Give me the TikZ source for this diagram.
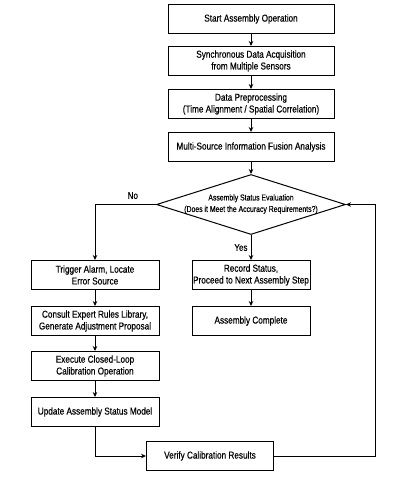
\documentclass[tikz,border=0pt]{standalone}
\usepackage{fontspec}
\setmainfont{Liberation Sans}[FakeStretch=0.82,FakeBold=0.3]
\newfontfamily\decfont{Liberation Sans}[FakeStretch=0.8,FakeBold=0.3]
\usetikzlibrary{shapes.geometric,arrows.meta}
\begin{document}
\begin{tikzpicture}[x=1pt,y=-1pt,
  box/.style={draw, line width=1pt, minimum height=29pt, inner sep=0pt, align=center,
     font=\fontsize{10}{11.8}\selectfont},
  mainbox/.style={box, minimum width=166pt},
  leftbox/.style={box, minimum width=128pt},
  midbox/.style={box, minimum width=118pt},
  arr/.style={line width=1pt, -{Stealth[length=5pt,width=4.5pt]}},
  lbl/.style={font=\fontsize{9.8}{11}\selectfont, inner sep=1pt}]
\useasboundingbox (0,0) rectangle (420,480);
\fill[white] (0,0) rectangle (420,480);
\node[mainbox] (b1) at (251,19) {Start Assembly Operation};
\node[mainbox] (b2) at (251,61) {Synchronous Data Acquisition\\from Multiple Sensors};
\node[mainbox] (b3) at (251,104) {Data Preprocessing\\(Time Alignment / Spatial Correlation)};
\node[mainbox] (b4) at (251,147) {Multi-Source Information Fusion Analysis};
\node[draw, line width=1pt, diamond, minimum width=189pt, minimum height=60pt, inner sep=0pt] (dec) at (251,204.5) {};
\node[align=center, font=\decfont\fontsize{8.6}{11.5}\selectfont, inner sep=0pt] (dect) at (251,204) {Assembly Status Evaluation\\(Does it Meet the Accuracy Requirements?)};
\node[midbox] (rec) at (251,275) {Record Status,\\Proceed to Next Assembly Step};
\node[midbox] (done) at (251,321) {Assembly Complete};
\node[leftbox] (l1) at (95,275) {Trigger Alarm, Locate\\Error Source};
\node[leftbox] (l2) at (95,321) {Consult Expert Rules Library,\\Generate Adjustment Proposal};
\node[leftbox] (l3) at (95,366) {Execute Closed-Loop\\Calibration Operation};
\node[leftbox] (l4) at (95,412) {Update Assembly Status Model};
\node[box, minimum width=127pt] (ver) at (210,456) {Verify Calibration Results};
\coordinate (fb) at (375,456);
\draw[arr] (b1) -- (b2);
\draw[arr] (b2) -- (b3);
\draw[arr] (b3) -- (b4);
\draw[arr] (b4) -- (dec.north);
\draw[arr] (dec.south) -- node[lbl, left=2pt] (yes) {Yes} (rec);
\draw[arr] (rec) -- (done);
\draw[arr] (dec.west) -| node[lbl, pos=0.19, above=4pt] (no) {No} (l1.north);
\draw[arr] (l1) -- (l2);
\draw[arr] (l2) -- (l3);
\draw[arr] (l3) -- (l4);
\draw[arr] (l4.south) |- (ver.west);
\draw[arr] (ver.east) -- (fb) |- (dec.east);
\end{tikzpicture}
\end{document}
